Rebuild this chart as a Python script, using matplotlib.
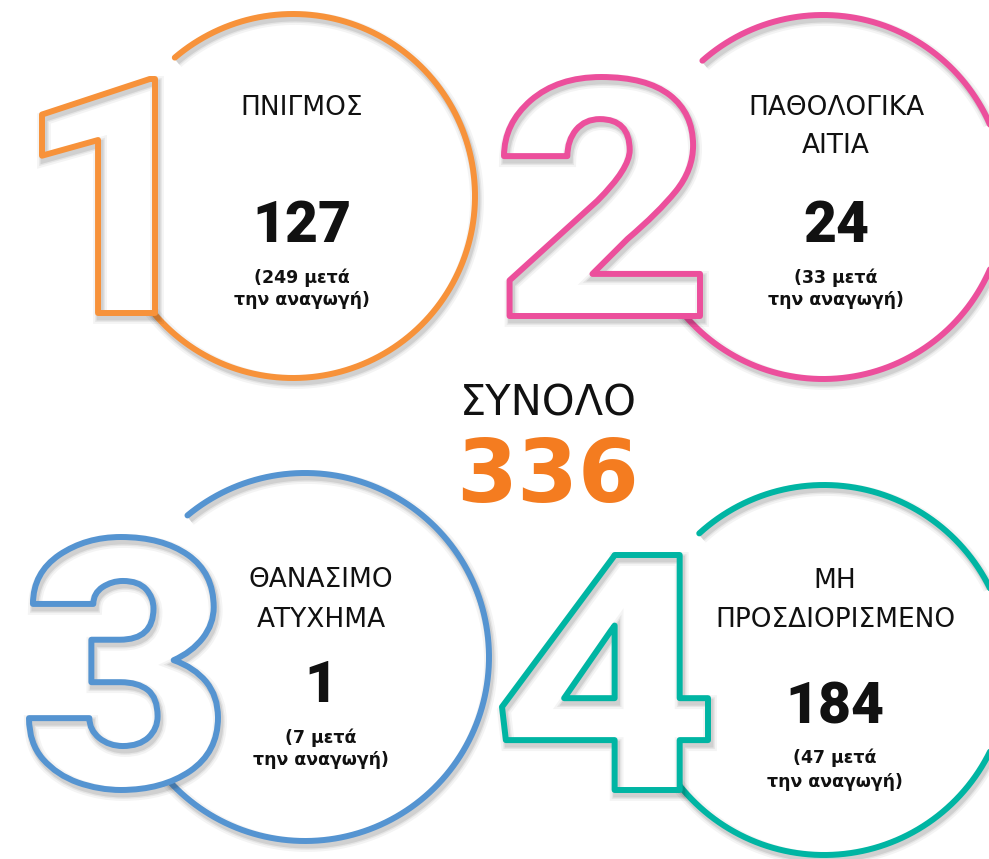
"""Infographic: causes of death, four ringed panels plus total."""
import numpy as np
import matplotlib
matplotlib.use('Agg')
import matplotlib.pyplot as plt
from matplotlib.textpath import TextPath
from matplotlib.font_manager import FontProperties
from matplotlib.patches import PathPatch
from matplotlib.transforms import Affine2D

# ---- data ----
ranks = ['1', '2', '3', '4']
categories = ['ΠΝΙΓΜΟΣ', 'ΠΑΘΟΛΟΓΙΚΑ\nΑΙΤΙΑ', 'ΘΑΝΑΣΙΜΟ\nΑΤΥΧΗΜΑ', 'ΜΗ\nΠΡΟΣΔΙΟΡΙΣΜΕΝΟ']
counts = [127, 24, 1, 184]
after_reduction = [249, 33, 7, 47]
total_label = 'ΣΥΝΟΛΟ'
total = 336
colors = ['#F7923A', '#EC4F9C', '#5594D1', '#00B5A3']
total_color = '#F47C20'

# ---- layout (pixels, y down) ----
W, H = 989, 859
centers = [(293, 196), (823, 197), (305, 657), (824, 670)]
radii = [182, 182, 184, 185]
arc_span = [(-130.5, 146), (-131.5, 146), (-129.7, 146), (-132.4, 146)]
digit_box = [(42, 79, 155, 313), (504, 77, 700, 316),
             (29, 537, 218, 790), (502, 555, 708, 790)]
text_x = [302, 836, 321, 835]
label_base = [[115], [115, 153], [587, 627], [588, 627]]
number_base = [242, 242, 702, 723]
sub_base = [(283, 305), (283, 305), (743, 765), (763, 787)]

INK = '#111111'
LW = 4.3

fig = plt.figure(figsize=(W / 100, H / 100), dpi=100)
ax = fig.add_axes([0, 0, 1, 1])
ax.set_xlim(0, W)
ax.set_ylim(H, 0)
ax.axis('off')

shadow_off = Affine2D().translate(2, 4)


def add_shadowed(path, color, z):
    # soft grey shadow under the stroke, then the stroke itself
    for lw, a in [(10, 0.045), (7, 0.06), (5, 0.09)]:
        ax.add_patch(PathPatch(shadow_off.transform_path(path), facecolor='none',
                               edgecolor='black', lw=lw, alpha=a, zorder=z))
    ax.add_patch(PathPatch(path, facecolor='none', edgecolor=color, lw=LW,
                           capstyle='round', joinstyle='round', zorder=z + 0.5))


digit_fp = FontProperties(family='Roboto', weight='black')

for i in range(4):
    cx, cy = centers[i]
    r = radii[i]
    t = np.radians(np.linspace(arc_span[i][0], arc_span[i][1], 300))
    arc = matplotlib.path.Path(np.column_stack([cx + r * np.cos(t), cy + r * np.sin(t)]))
    add_shadowed(arc, colors[i], 1)

    # outlined rank digit
    tp = TextPath((0, 0), ranks[i], size=100, prop=digit_fp)
    ext = tp.get_extents()
    x0, y0, x1, y1 = digit_box[i]
    tr = (Affine2D().translate(-ext.x0, -ext.y1)
          .scale((x1 - x0) / ext.width, -(y1 - y0) / ext.height)
          .translate(x0, y0))
    gpath = tr.transform_path(tp)
    ax.add_patch(PathPatch(gpath, facecolor='white', edgecolor='none', zorder=3))
    add_shadowed(gpath, colors[i], 4)

    # texts
    for line, yb in zip(categories[i].split('\n'), label_base[i]):
        ax.text(text_x[i], yb, line, ha='center', va='baseline', fontsize=19,
                family='DejaVu Sans', color=INK, zorder=6)
    ax.text(text_x[i], number_base[i], str(counts[i]), ha='center', va='baseline',
            fontsize=41, family='Roboto', weight='black', color=INK, zorder=6)
    ax.text(text_x[i], sub_base[i][0], f'({after_reduction[i]} μετά', ha='center',
            va='baseline', fontsize=12.5, family='DejaVu Sans', weight='bold',
            color=INK, zorder=6)
    ax.text(text_x[i], sub_base[i][1], 'την αναγωγή)', ha='center',
            va='baseline', fontsize=12.5, family='DejaVu Sans', weight='bold',
            color=INK, zorder=6)

ax.text(548, 415, total_label, ha='center', va='baseline', fontsize=30,
        family='DejaVu Sans', color=INK, zorder=6)
ax.text(548, 502, str(total), ha='center', va='baseline', fontsize=63,
        family='DejaVu Sans', weight='bold', color=total_color, zorder=6)

plt.savefig('out.png', dpi=100, facecolor='white')
